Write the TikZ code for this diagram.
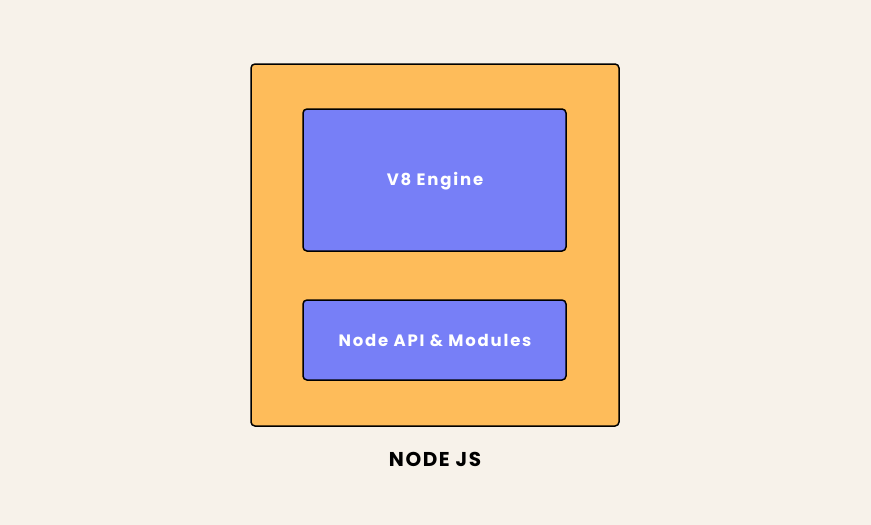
\documentclass[tikz,border=0pt]{standalone}
\usepackage{fontspec}
\setmainfont{Poppins}
\definecolor{bg}{HTML}{F7F2EA}
\definecolor{orng}{HTML}{FEBC5A}
\definecolor{purp}{HTML}{777FF7}
\begin{document}
\begin{tikzpicture}[x=1pt,y=-1pt,
  boxstyle/.style={draw=black,line width=1.5pt,rounded corners=4pt},
  lbl/.style={font=\bfseries\fontsize{16.5}{19}\selectfont\addfontfeature{LetterSpace=11},text=white}]
\fill[bg] (0,0) rectangle (871,525);
\useasboundingbox (0,0) rectangle (871,525);
\draw[boxstyle,fill=orng] (251,64) rectangle (619,426);
\draw[boxstyle,fill=purp] (303,109) rectangle (566,251);
\draw[boxstyle,fill=purp] (303,300) rectangle (566,380);
\node[lbl] (v8) at (435,181) {V8 Engine};
\node[lbl] (api) at (435,340) {Node API \& Modules};
\node[font=\bfseries\fontsize{20}{24}\selectfont\addfontfeature{LetterSpace=8}] (nj) at (435,459) {NODE JS};
\end{tikzpicture}
\end{document}
